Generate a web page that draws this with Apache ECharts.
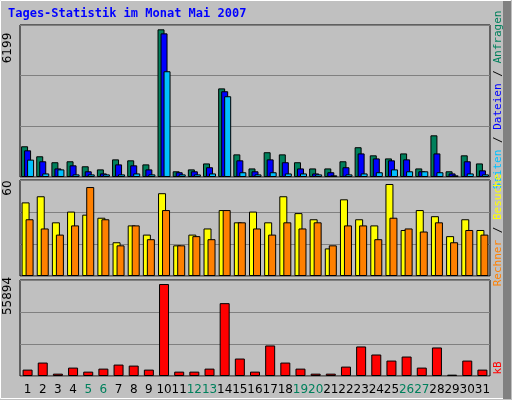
<!DOCTYPE html>
<html>
<head>
<meta charset="utf-8">
<script src="https://cdn.jsdelivr.net/npm/echarts@6/dist/echarts.min.js"></script>
<style>
html, body { margin: 0; padding: 0; background: #c0c0c0; }
#main { width: 512px; height: 400px; }
</style>
</head>
<body>
<div id="main"></div>
<script>
var days = [];
for (var d = 1; d <= 31; d++) days.push(String(d));
var weekendDays = ['5', '6', '12', '13', '19', '20', '26', '27'];

// Anfragen / Dateien / Seiten
var hits = [1290, 870, 620, 660, 450, 320, 740, 700, 530, 6199, 240, 320, 570, 3720, 950, 360,
    1040, 950, 620, 360, 360, 660, 1250, 910, 780, 990, 360, 1750, 240, 910, 570];
var files = [1120, 660, 360, 490, 240, 150, 530, 490, 320, 6030, 200, 240, 410, 3600, 700, 240,
    740, 620, 360, 150, 200, 410, 990, 780, 700, 740, 240, 990, 150, 660, 280];
var pages = [730, 150, 320, 110, 110, 110, 110, 150, 110, 4440, 110, 110, 150, 3390, 200, 110,
    200, 150, 150, 110, 70, 110, 150, 200, 320, 240, 240, 200, 70, 150, 110];
// Besuche / Rechner
var visits = [48, 52, 35, 42, 40, 38, 22, 33, 27, 54, 20, 27, 31, 43, 35, 42,
    35, 52, 41, 37, 18, 50, 37, 33, 60, 30, 43, 39, 26, 37, 30];
var sites = [37, 31, 27, 33, 58, 37, 20, 33, 24, 43, 20, 26, 24, 43, 35, 31,
    27, 35, 31, 35, 20, 33, 33, 24, 38, 31, 29, 35, 22, 30, 27];
// kB
var kbytes = [3880, 8160, 1430, 5100, 2650, 4490, 6940, 6320, 3880, 55894, 2650, 2650, 4490, 44270, 10610, 2650,
    18560, 8160, 4490, 1430, 1430, 5710, 17950, 13060, 9380, 11830, 5100, 17340, 820, 9380, 3880];

var max1 = 6381, max2 = 62.6, max3 = 58342;

var chart = echarts.init(document.getElementById('main'));
var gridBase = { left: 20, right: 22, show: true, backgroundColor: '#c0c0c0', borderColor: '#000', borderWidth: 1 };
function yAx(idx, max) {
    return {
        gridIndex: idx, min: 0, max: max, interval: max / 3,
        axisLabel: { show: false }, axisLine: { show: false }, axisTick: { show: false },
        splitLine: { lineStyle: { color: '#808080', width: 1 } }
    };
}
function xAx(idx, show) {
    return {
        type: 'category', gridIndex: idx, data: days,
        axisLine: { show: false }, axisTick: { show: false },
        axisLabel: {
            show: show, interval: 0, margin: 8, fontSize: 12, fontFamily: 'DejaVu Sans',
            color: function (v) { return weekendDays.indexOf(v) >= 0 ? '#00805c' : '#000'; }
        }
    };
}
var bs = { borderColor: '#000', borderWidth: 1 };
function bar(name, data, color, x, w, gap) {
    return {
        type: 'bar', name: name, data: data, xAxisIndex: x, yAxisIndex: x,
        barWidth: w, barGap: gap, animation: false,
        itemStyle: Object.assign({ color: color }, bs)
    };
}
var mono = 'DejaVu Sans Mono';
chart.setOption({
    backgroundColor: '#c0c0c0',
    animation: false,
    grid: [
        Object.assign({ top: 25, height: 152 }, gridBase),
        Object.assign({ top: 180, height: 96 }, gridBase),
        Object.assign({ top: 280, height: 96 }, gridBase)
    ],
    xAxis: [xAx(0, false), xAx(1, false), xAx(2, true)],
    yAxis: [yAx(0, max1), yAx(1, max2), yAx(2, max3)],
    series: [
        bar('Anfragen', hits, '#00805c', 0, 7, '-57%'),
        bar('Dateien', files, '#0000ff', 0, 7, '-57%'),
        bar('Seiten', pages, '#00c0ff', 0, 7, '-57%'),
        bar('Besuche', visits, '#ffff00', 1, 8, '-50%'),
        bar('Rechner', sites, '#ff8000', 1, 8, '-50%'),
        bar('kB', kbytes, '#ff0000', 2, 10, '0%')
    ],
    graphic: [
        { type: 'rect', shape: { x: 0.5, y: 0.5, width: 510, height: 398 }, style: { fill: 'none', stroke: '#fff', lineWidth: 1 } },
        { type: 'rect', shape: { x: 503, y: 1, width: 8, height: 398 }, style: { fill: '#808080' } },
        { type: 'text', left: 8, top: 8, style: { text: 'Tages-Statistik im Monat Mai 2007', fill: '#0000ff', font: 'bold 12px "DejaVu Sans Mono"' } },
        { type: 'text', x: 8, y: 48, rotation: Math.PI / 2, style: { text: '6199', fill: '#000', font: '12px "DejaVu Sans"', align: 'center', verticalAlign: 'middle' } },
        { type: 'text', x: 8, y: 188, rotation: Math.PI / 2, style: { text: '60', fill: '#000', font: '12px "DejaVu Sans"', align: 'center', verticalAlign: 'middle' } },
        { type: 'text', x: 8, y: 296, rotation: Math.PI / 2, style: { text: '55894', fill: '#000', font: '12px "DejaVu Sans"', align: 'center', verticalAlign: 'middle' } },
        { type: 'text', x: 498, y: 100, rotation: Math.PI / 2, style: {
            text: '{c|Seiten} / {b|Dateien} / {g|Anfragen}', font: '11px "DejaVu Sans Mono"', fill: '#000',
            align: 'center', verticalAlign: 'middle',
            rich: { c: { fill: '#00c0ff', font: '11px "DejaVu Sans Mono"' }, b: { fill: '#0000ff', font: '11px "DejaVu Sans Mono"' }, g: { fill: '#00805c', font: '11px "DejaVu Sans Mono"' } }
        } },
        { type: 'text', x: 498, y: 230, rotation: Math.PI / 2, style: {
            text: '{o|Rechner} / {y|Besuche}', font: '11px "DejaVu Sans Mono"', fill: '#000',
            align: 'center', verticalAlign: 'middle',
            rich: { o: { fill: '#ff8000', font: '11px "DejaVu Sans Mono"' }, y: { fill: '#ffff00', font: '11px "DejaVu Sans Mono"' } }
        } },
        { type: 'text', x: 498, y: 368, rotation: Math.PI / 2, style: { text: 'kB', fill: '#ff0000', font: '11px "DejaVu Sans Mono"', align: 'center', verticalAlign: 'middle' } }
    ]
});
</script>
</body>
</html>
